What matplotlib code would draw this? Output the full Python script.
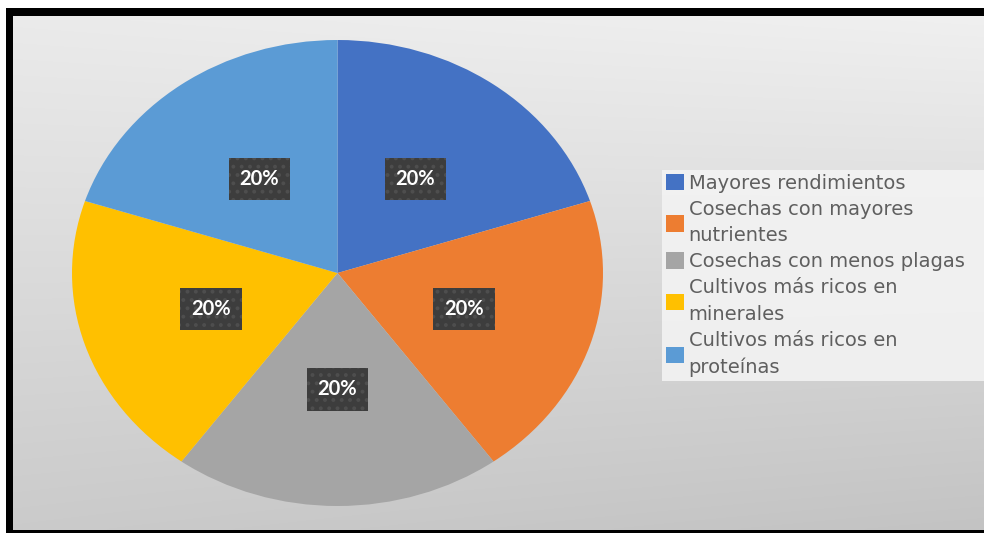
import numpy as np
import matplotlib
matplotlib.use("Agg")
import matplotlib.pyplot as plt
from matplotlib.patches import Rectangle, Patch

# Data
categories = [
    "Mayores rendimientos",
    "Cosechas con mayores\nnutrientes",
    "Cosechas con menos plagas",
    "Cultivos más ricos en\nminerales",
    "Cultivos más ricos en\nproteínas",
]
shares = [20, 20, 20, 20, 20]
colors = ["#4472C4", "#ED7D31", "#A5A5A5", "#FFC000", "#5B9BD5"]

W, H = 984, 533
fig = plt.figure(figsize=(W / 100, H / 100), dpi=100)
fig.patch.set_facecolor("white")

def px_rect(x0, y0, x1, y1):
    """Figure-fraction rectangle from pixel coords (origin top-left)."""
    return (x0 / W, 1 - y1 / H, (x1 - x0) / W, (y1 - y0) / H)

# Gradient background panel
bg_ax = fig.add_axes(px_rect(13, 16, W, 530))
bg_ax.set_axis_off()
yy, xx = np.mgrid[0:1:200j, 0:1:200j]
top = 0.92 + 0.02 * xx
bottom = 0.795 - 0.03 * xx
shade = top + (bottom - top) * yy
bg_ax.imshow(np.dstack([shade] * 3), aspect="auto", extent=(0, 1, 0, 1),
             interpolation="bilinear")
bg_ax.set_xlim(0, 1)
bg_ax.set_ylim(0, 1)

# Black frame strips
for (x0, y0, x1, y1) in [(6, 8, W, 16), (6, 8, 13, 533), (6, 530, W, 533)]:
    r = px_rect(x0, y0, x1, y1)
    fig.patches.append(Rectangle(r[:2], r[2], r[3], transform=fig.transFigure,
                                 facecolor="black", edgecolor="none", zorder=5))

# Pie (stretched to the ellipse of the axes box)
ax = fig.add_axes(px_rect(72, 40, 603, 506))
plt.rcParams["hatch.linewidth"] = 1.6
wedges, texts, autotexts = ax.pie(
    shares, colors=colors, startangle=90, counterclock=False,
    autopct="%1.0f%%", pctdistance=0.5,
    wedgeprops=dict(linewidth=0, edgecolor="none"),
    textprops=dict(color="white", fontsize=14.5, fontweight="bold",
                   family=["Lato", "DejaVu Sans"]),
)
ax.set_aspect("auto")
ax.set_xlim(-1, 1)
ax.set_ylim(-1, 1)
ax.set_axis_off()
for t in autotexts:
    t.set_bbox(dict(boxstyle="square,pad=0.55", facecolor="#3d3d3d",
                    edgecolor="#4e4e4e", linewidth=0, hatch=".."))

# Legend
handles = [Patch(facecolor=c, edgecolor="none") for c in colors]
x0, y0 = 662 / W, 1 - 170 / H
leg = fig.legend(handles, categories, loc="upper left",
                 bbox_to_anchor=(x0, y0 - 0.40, 1 - x0, 0.40), mode="expand",
                 frameon=True, fancybox=False, facecolor="#f3f3f3",
                 edgecolor="none", framealpha=0.9, borderpad=0.2,
                 borderaxespad=0, handlelength=0.92, handleheight=0.92,
                 handletextpad=0.25, labelspacing=0.36,
                 prop=dict(family=["DejaVu Sans"], size=14))
for t in leg.get_texts():
    t.set_color("#5f5f5f")
    t.set_linespacing(1.5)

fig.savefig("out.png", dpi=100)
